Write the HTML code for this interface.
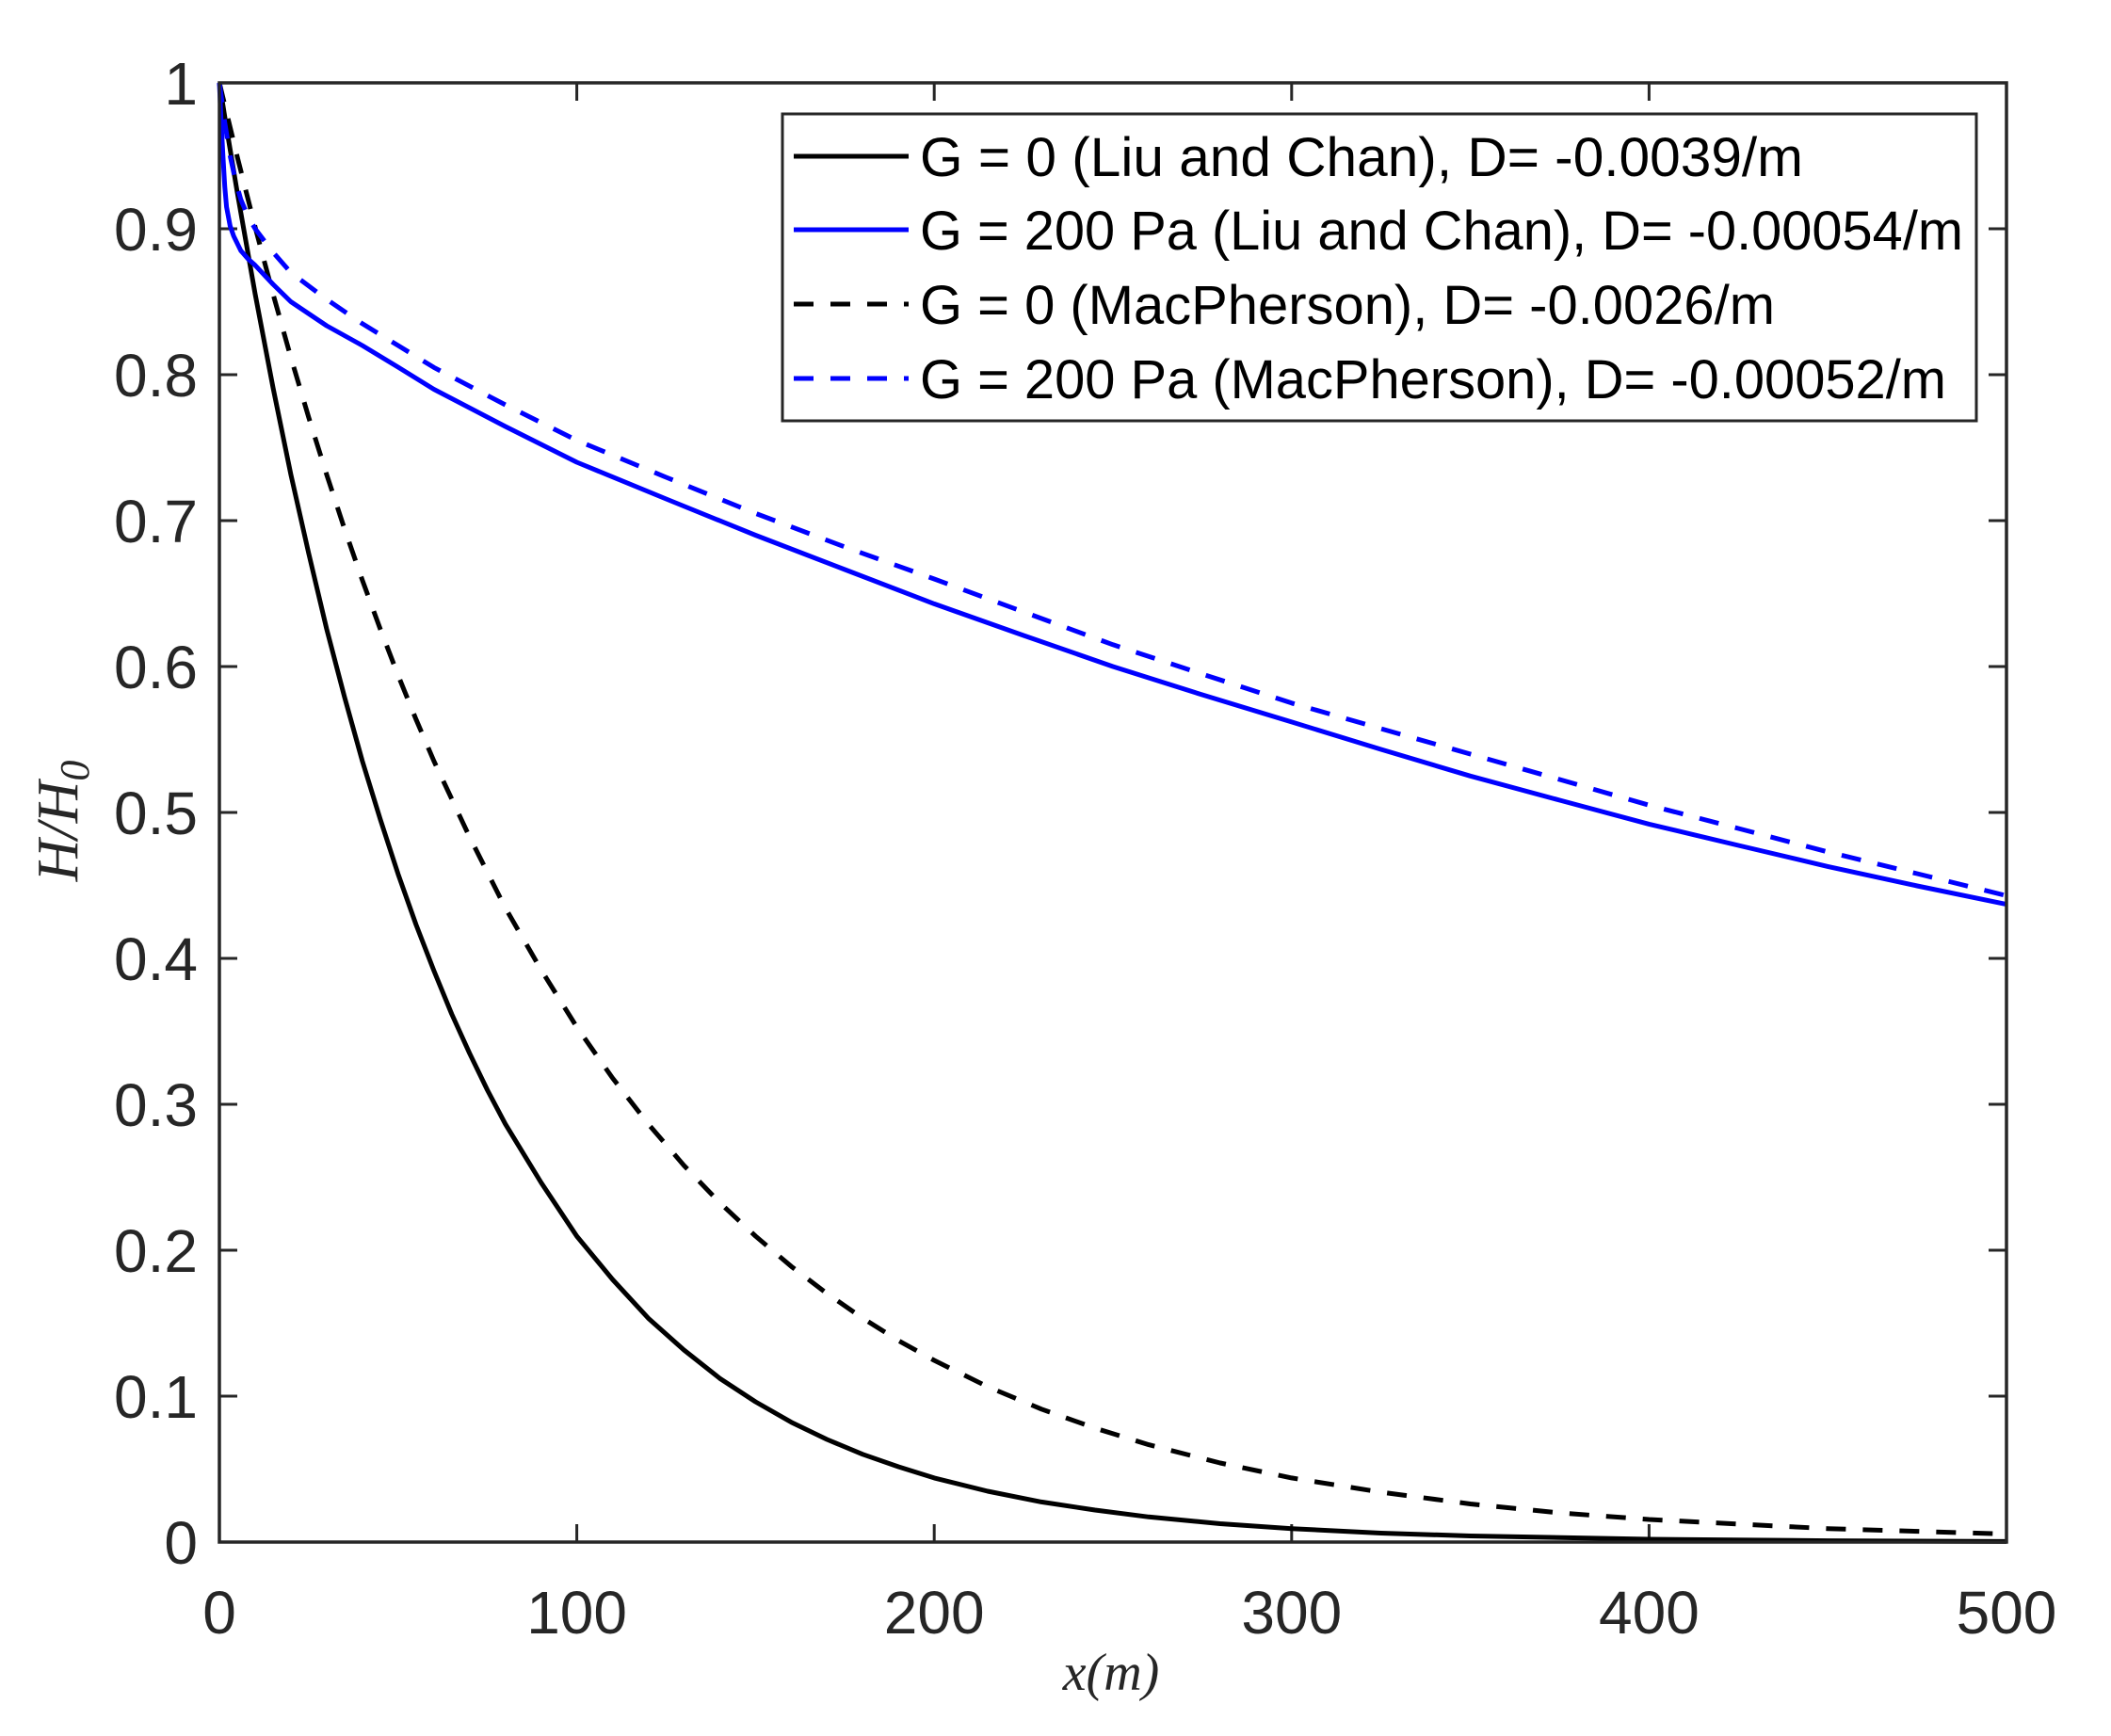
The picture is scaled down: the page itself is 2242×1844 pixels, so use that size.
<!DOCTYPE html>
<html><head><meta charset="utf-8"><style>html,body{margin:0;padding:0;background:#fff}svg{display:block}</style></head>
<body>
<svg xmlns="http://www.w3.org/2000/svg" width="2242" height="1844" viewBox="0 0 2242 1844">
<rect width="2242" height="1844" fill="#fff"/>
<g stroke="#262626" stroke-width="3">
<path d="M612.6,1638v-19M992.2,1638v-19M1371.8,1638v-19M1751.4,1638v-19M612.6,88v19M992.2,88v19M1371.8,88v19M1751.4,88v19"/>
<path d="M233,1483h19M233,1328h19M233,1173h19M233,1018h19M233,863h19M233,708h19M233,553h19M233,398h19M233,243h19M2131,1483h-19M2131,1328h-19M2131,1173h-19M2131,1018h-19M2131,863h-19M2131,708h-19M2131,553h-19M2131,398h-19M2131,243h-19"/>
</g>
<g fill="none" stroke-width="5" stroke-linejoin="round">
<polyline stroke="#000" points="233,88 240.6,135.7 252,204.4 271,312.3 290,411.9 308.9,504 327.9,588 346.9,668 365.8,740 384.8,808.3 403.8,870 422.8,928.4 441.8,982 460.8,1031 479.7,1077 498.7,1118.8 517.7,1158 536.7,1193.9 574.6,1256 612.6,1313.1 650.5,1359 688.5,1400.2 726.4,1434 764.4,1464.1 802.4,1489 840.4,1510.7 878.3,1529 916.3,1544.8 954.2,1558 992.2,1569.9 1049,1584 1106.1,1595.4 1163,1604 1220,1611.3 1295.9,1618.5 1371.8,1623.7 1466.7,1628.5 1561.6,1631.5 1751.4,1635 1941.2,1636.6 2131,1637.4"/>
<polyline stroke="#000" stroke-dasharray="21,18" points="233,88 252,166.6 271,241.3 290,312.3 308.9,379.6 327.9,443.5 346.9,504 365.8,561.5 384.8,616.2 403.8,668 422.8,717.3 441.8,764 460.8,808.3 498.7,889 536.7,964.4 574.6,1030 612.6,1091 650.5,1145 688.5,1193.9 726.4,1238 764.4,1277.5 802.4,1313 840.4,1345.2 878.3,1374 916.3,1400.2 954.2,1424 992.2,1445 1049,1473 1106.1,1496.8 1163,1517 1220,1534.6 1295.9,1554 1371.8,1569.9 1466.7,1585 1561.6,1597.5 1656.5,1607 1751.4,1614 1941.2,1623.7 2131,1629.5"/>
<polyline stroke="#0000ff" points="233,88 234.9,130 236.8,165.5 238.7,198 240.6,219.8 244.4,240 248.2,250.8 255.8,266.3 263.4,275 271,281.8 290,302 308.9,320.5 346.9,346 384.8,367 422.8,390 460.8,413.5 536.7,453 612.6,491 707.5,530 802.4,568.5 897.3,605 992.2,641.4 1087.1,675 1182,708 1276.9,738 1371.8,766.9 1466.7,796 1561.6,824.3 1656.5,850 1751.4,875.4 1846.3,898 1941.2,920.4 2036.1,941 2131,960.6"/>
<polyline stroke="#0000ff" stroke-dasharray="21,18" points="233,88 238.7,130 244.4,165.5 250.1,192 255.8,212 263.4,230 271,243 290,268 308.9,289.5 346.9,318 384.8,343.8 422.8,367 460.8,390.3 536.7,430 612.6,467.8 707.5,507 802.4,545.3 897.3,581 992.2,615 1087.1,650 1182,684.8 1276.9,716 1371.8,746.8 1466.7,774 1561.6,801 1656.5,828 1751.4,855.3 1846.3,880 1941.2,904.9 2036.1,928 2131,951.4"/>
</g>
<rect x="233" y="88" width="1898" height="1550" fill="none" stroke="#262626" stroke-width="3.5"/>
<g font-family="Liberation Sans, sans-serif" font-size="64" fill="#262626">
<g text-anchor="middle">
<text x="233" y="1735">0</text><text x="612.6" y="1735">100</text><text x="992.2" y="1735">200</text><text x="1371.8" y="1735">300</text><text x="1751.4" y="1735">400</text><text x="2131" y="1735">500</text>
</g>
<g text-anchor="end">
<text x="210" y="1661">0</text><text x="210" y="1506">0.1</text><text x="210" y="1351">0.2</text><text x="210" y="1196">0.3</text><text x="210" y="1041">0.4</text><text x="210" y="886">0.5</text><text x="210" y="731">0.6</text><text x="210" y="576">0.7</text><text x="210" y="421">0.8</text><text x="210" y="266">0.9</text><text x="210" y="111">1</text>
</g>
</g>
<text x="1180" y="1795" font-family="Liberation Serif, serif" font-style="italic" font-size="56" text-anchor="middle" fill="#262626">x(m)</text>
<text transform="translate(82,872) rotate(-90)" font-family="Liberation Serif, serif" font-style="italic" font-size="62" text-anchor="middle" fill="#262626">H/H<tspan font-size="44" dy="12">0</tspan></text>
<rect x="831" y="121" width="1268" height="326" fill="#fff" stroke="#262626" stroke-width="3"/>
<line x1="843" y1="166" x2="965" y2="166" stroke="#000" stroke-width="5"/>
<line x1="843" y1="244" x2="965" y2="244" stroke="#0000ff" stroke-width="5"/>
<line x1="843" y1="323" x2="965" y2="323" stroke="#000" stroke-width="5" stroke-dasharray="21,18"/>
<line x1="843" y1="402" x2="965" y2="402" stroke="#0000ff" stroke-width="5" stroke-dasharray="21,18"/>
<g font-family="Liberation Sans, sans-serif" font-size="58" fill="#000">
<text x="977" y="187" textLength="938" lengthAdjust="spacingAndGlyphs">G = 0 (Liu and Chan), D= -0.0039/m</text>
<text x="977" y="265" textLength="1108" lengthAdjust="spacingAndGlyphs">G = 200 Pa (Liu and Chan), D= -0.00054/m</text>
<text x="977" y="344" textLength="908" lengthAdjust="spacingAndGlyphs">G = 0 (MacPherson), D= -0.0026/m</text>
<text x="977" y="423" textLength="1090" lengthAdjust="spacingAndGlyphs">G = 200 Pa (MacPherson), D= -0.00052/m</text>
</g>
</svg>
</body></html>
